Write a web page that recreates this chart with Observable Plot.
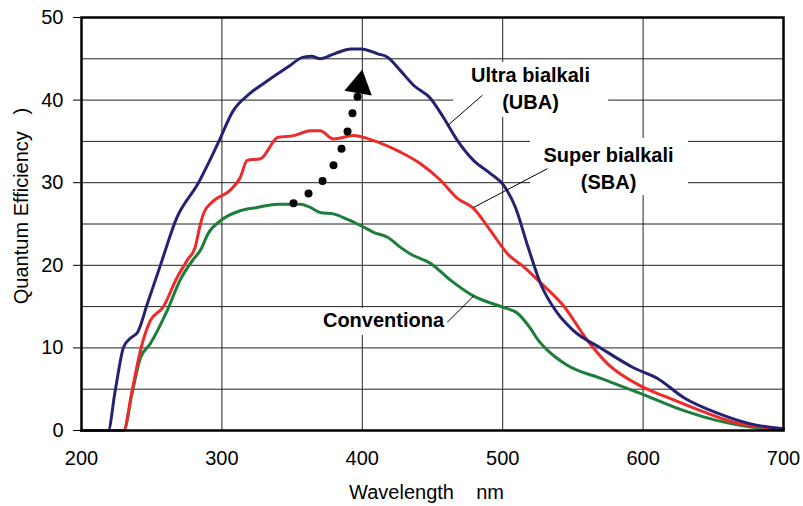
<!DOCTYPE html>
<html><head><meta charset="utf-8">
<script src="https://cdn.jsdelivr.net/npm/d3@7"></script>
<script src="https://cdn.jsdelivr.net/npm/@observablehq/plot@0.6"></script>
<style>
body{margin:0;background:#fff}
svg{font-family:"Liberation Sans",Arial,sans-serif}
</style>
</head><body><div id="chart"></div>
<script>
// Ultra bialkali (UBA)
const ubaWl = [200,219,224,230,235,240,247,256,268,283,297,308,320,333,347,358,364,370,380,392,399,411,418,427,436.5,448.6,457.8,467.8,479.2,491.3,500.6,509.1,517.7,526.9,539,550.4,569.7,593.2,610.3,628.8,653,676.5,700];
const ubaQE = [0,0,4.8,10.1,11.2,11.9,15.4,19.9,25.8,29.9,34.7,38.7,40.8,42.4,44.0,45.2,45.3,45.0,45.6,46.2,46.2,45.6,45.2,43.6,41.8,40.2,37.9,35.1,32.7,31.1,29.7,27.0,22.4,17.8,14.2,12.1,10.0,7.6,6.3,4.0,2.1,0.8,0.2];
// Super bialkali (SBA)
const sbaWl = [200,230,236,242,249,258,268,275.3,281,284,287,294,306,313,318,327.5,340,351,363,370,379.5,393.7,408,427.2,441.5,455.7,467.8,479.2,491.3,503.4,515,526.9,543.3,560.4,574.6,598.1,617.4,640.9,664.4,700];
const sbaQE = [0,0,4.8,9.7,13.3,14.9,18.5,20.6,22.2,24.5,26.3,27.8,29.1,30.6,32.7,32.9,35.5,35.7,36.3,36.3,35.3,35.7,35.1,33.7,32.3,30.3,28.1,26.9,24.2,21.4,19.8,17.9,15.1,10.9,8.1,5.4,4.0,2.4,1.0,0.2];
// Conventional
const convWl = [200,230,236,242,249,261,270.5,280,285,290,299,313,325,340,356,363,370,380,389,399,408,418,427,434,449,462.8,479,500.6,510.5,520,525,532,546,570,598,629,653,689,700];
const convQE = [0,0,4.5,8.8,10.5,14.5,18.3,20.8,21.9,23.8,25.4,26.6,27.0,27.4,27.4,27.0,26.4,26.2,25.6,24.8,24.0,23.4,22.2,21.4,20.2,18.2,16.3,14.9,14.2,12.3,11.0,9.7,7.9,6.3,4.5,2.4,1.2,0.2,0.1];

// dotted arrow (wavelength, QE)
const arrowDotWl = [351,361.7,371.7,379.5,385.2,389.5,393,396.6];
const arrowDotQE = [27.5,28.7,30.2,32.1,34.1,36.2,38.4,40.4];
const arrowHeadWl = [398.0];
const arrowHeadQE = [41.8];

// tick values
const xTicks = [200,300,400,500,600,700];
const yTicks = [0,10,20,30,40,50];
const yGrid = [5,10,15,20,25,30,35,40,45];
const xGrid = [300,400,500,600];

// annotation labels
const labelText = ["Ultra bialkali","(UBA)","Super bialkali","(SBA)","Conventiona"];
const labelWl = [519.8,519.8,575.4,575.4,415.1];
const labelQE = [43.0,39.7,33.3,30.0,13.25];
// label background boxes
const boxWl1 = [465.0,519.8,368.8];
const boxWl2 = [575.4,632.3,461.4];
const boxQE1 = [37.9,28.45,11.5];
const boxQE2 = [44.55,35.35,14.77];
// leader lines
const leadWl1 = [485.6,531.9,460.5];
const leadQE1 = [40.6,31.7,13.1];
const leadWl2 = [460.7,479.2,479.4];
const leadQE2 = [36.9,27.0,16.3];

const toPts = (w, q) => w.map((x, i) => ({x, y: q[i]}));
const uba = toPts(ubaWl, ubaQE);
const sba = toPts(sbaWl, sbaQE);
const conv = toPts(convWl, convQE);
const dots = toPts(arrowDotWl, arrowDotQE);
const head = toPts(arrowHeadWl, arrowHeadQE);
const labels = labelText.map((t, i) => ({t, x: labelWl[i], y: labelQE[i]}));
const boxes = boxWl1.map((x1, i) => ({x1, x2: boxWl2[i], y1: boxQE1[i], y2: boxQE2[i]}));
const leads = leadWl1.map((x1, i) => ({x1, y1: leadQE1[i], x2: leadWl2[i], y2: leadQE2[i]}));

const sp = "\u00a0";
const chart = Plot.plot({
  width: 803,
  height: 506,
  marginLeft: 81,
  marginRight: 20,
  marginTop: 17,
  marginBottom: 76,
  style: {fontSize: "20px", fontFamily: "'Liberation Sans', Arial, sans-serif", color: "#000"},
  x: {domain: [200, 700]},
  y: {domain: [0, 50]},
  marks: [
    Plot.gridY(yGrid, {stroke: "#222", strokeOpacity: 1, strokeWidth: 1}),
    Plot.gridX(xGrid, {stroke: "#222", strokeOpacity: 1, strokeWidth: 1}),
    Plot.rect(boxes, {x1: "x1", x2: "x2", y1: "y1", y2: "y2", fill: "white"}),
    Plot.axisX(xTicks, {tickSize: 0, tickPadding: 20, label: null, fontSize: 20}),
    Plot.axisY(yTicks, {tickSize: 8, tickPadding: 10, label: null, fontSize: 20}),
    Plot.text(["Wavelength" + sp.repeat(4) + "nm"], {frameAnchor: "bottom", textAnchor: "middle", lineAnchor: "middle", dy: 62, dx: -6, fontSize: 20}),
    Plot.text(["Quantum Efficiency" + sp.repeat(3) + ")"], {frameAnchor: "left", textAnchor: "middle", lineAnchor: "middle", rotate: -90, dx: -60, dy: -18, fontSize: 20}),
    Plot.line(conv, {x: "x", y: "y", stroke: "#1d7d3b", strokeWidth: 3, curve: "monotone-x"}),
    Plot.line(sba, {x: "x", y: "y", stroke: "#ee2a2a", strokeWidth: 3, curve: "monotone-x"}),
    Plot.line(uba, {x: "x", y: "y", stroke: "#262272", strokeWidth: 3, curve: "monotone-x"}),
    Plot.link(leads, {x1: "x1", y1: "y1", x2: "x2", y2: "y2", stroke: "#000", strokeWidth: 1}),
    Plot.text(labels, {x: "x", y: "y", text: "t", fontWeight: "bold", fontSize: 20, textAnchor: "middle", lineAnchor: "middle", fill: "#000"}),
    Plot.dot(dots, {x: "x", y: "y", r: 4, fill: "#000", stroke: null}),
    Plot.dot(head, {x: "x", y: "y", r: 10.3, symbol: "triangle", rotate: 10, fill: "#000", stroke: null}),
    Plot.frame({stroke: "#000", strokeWidth: 2.5})
  ]
});
document.getElementById("chart").appendChild(chart);
</script>
</body></html>
